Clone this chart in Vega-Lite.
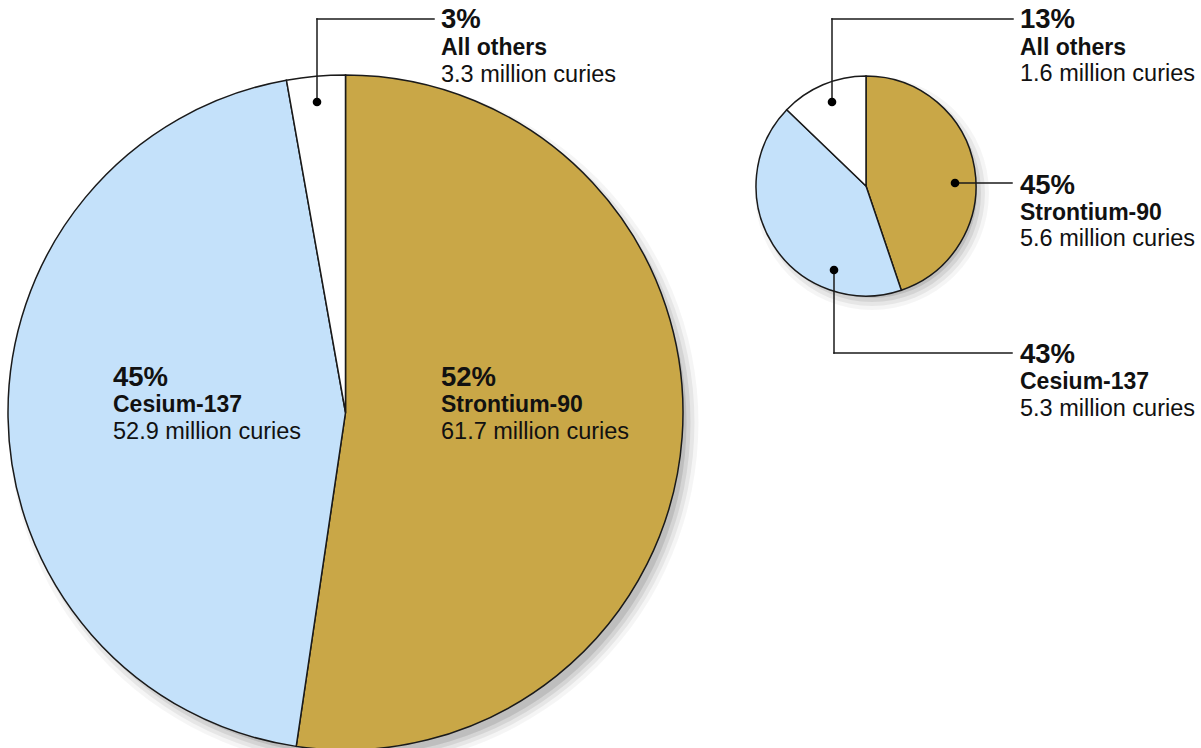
{
  "$schema": "https://vega.github.io/schema/vega-lite/v6.json",
  "width": 1201,
  "height": 748,
  "autosize": {"type": "none"},
  "padding": 0,
  "background": "#ffffff",
  "config": {
    "view": {"stroke": null},
    "axis": {"disable": true},
    "text": {"font": "Liberation Sans", "fill": "#111111", "baseline": "alphabetic", "align": "left"}
  },
  "data": {
    "values": [
      {"pie": "left", "nuclide": "Strontium-90", "curies": 61.7, "pct": "52%", "amount": "61.7 million curies", "ord": 1},
      {"pie": "left", "nuclide": "Cesium-137", "curies": 52.9, "pct": "45%", "amount": "52.9 million curies", "ord": 2},
      {"pie": "left", "nuclide": "All others", "curies": 3.3, "pct": "3%", "amount": "3.3 million curies", "ord": 3},
      {"pie": "right", "nuclide": "Strontium-90", "curies": 5.6, "pct": "45%", "amount": "5.6 million curies", "ord": 1},
      {"pie": "right", "nuclide": "Cesium-137", "curies": 5.3, "pct": "43%", "amount": "5.3 million curies", "ord": 2},
      {"pie": "right", "nuclide": "All others", "curies": 1.6, "pct": "13%", "amount": "1.6 million curies", "ord": 3}
    ]
  },
  "layer": [
    {
      "transform": [{"filter": "datum.pie === 'left' && datum.ord === 1"}],
      "layer": [
        {"mark": {"type": "arc", "theta": 0, "theta2": 6.2832, "outerRadius": 333, "fill": "#000000", "opacity": 0.1},
         "encoding": {
           "x": {"datum": 353.5, "scale": {"domain": [0, 1201], "nice": false, "zero": false}},
           "y": {"datum": 422.5, "scale": {"domain": [748, 0], "nice": false, "zero": false}}}},
        {"mark": {"type": "arc", "theta": 0, "theta2": 6.2832, "outerRadius": 337, "fill": "#000000", "opacity": 0.08},
         "encoding": {"x": {"datum": 353.5}, "y": {"datum": 422.5}}},
        {"mark": {"type": "arc", "theta": 0, "theta2": 6.2832, "outerRadius": 341, "fill": "#000000", "opacity": 0.06},
         "encoding": {"x": {"datum": 353.5}, "y": {"datum": 422.5}}},
        {"mark": {"type": "arc", "theta": 0, "theta2": 6.2832, "outerRadius": 345, "fill": "#000000", "opacity": 0.04},
         "encoding": {"x": {"datum": 353.5}, "y": {"datum": 422.5}}}
      ]
    },
    {
      "transform": [{"filter": "datum.pie === 'right' && datum.ord === 1"}],
      "layer": [
        {"mark": {"type": "arc", "theta": 0, "theta2": 6.2832, "outerRadius": 105, "fill": "#000000", "opacity": 0.1},
         "encoding": {"x": {"datum": 872}, "y": {"datum": 193}}},
        {"mark": {"type": "arc", "theta": 0, "theta2": 6.2832, "outerRadius": 109, "fill": "#000000", "opacity": 0.08},
         "encoding": {"x": {"datum": 872}, "y": {"datum": 193}}},
        {"mark": {"type": "arc", "theta": 0, "theta2": 6.2832, "outerRadius": 113, "fill": "#000000", "opacity": 0.06},
         "encoding": {"x": {"datum": 872}, "y": {"datum": 193}}},
        {"mark": {"type": "arc", "theta": 0, "theta2": 6.2832, "outerRadius": 117, "fill": "#000000", "opacity": 0.04},
         "encoding": {"x": {"datum": 872}, "y": {"datum": 193}}}
      ]
    },
    {
      "transform": [{"filter": "datum.pie === 'left'"}],
      "mark": {"type": "arc", "outerRadius": 337.5, "stroke": "#1a1a1a", "strokeWidth": 1.5},
      "encoding": {
        "x": {"datum": 345.5},
        "y": {"datum": 412.5},
        "theta": {"field": "curies", "type": "quantitative", "stack": "normalize"},
        "order": {"field": "ord", "type": "quantitative", "sort": "ascending"},
        "color": {"field": "nuclide", "type": "nominal", "legend": null,
          "scale": {"domain": ["Strontium-90", "Cesium-137", "All others"], "range": ["#C9A747", "#C4E1FA", "#FFFFFF"]}}
      }
    },
    {
      "transform": [{"filter": "datum.pie === 'right'"}],
      "mark": {"type": "arc", "outerRadius": 110, "stroke": "#1a1a1a", "strokeWidth": 1.5},
      "encoding": {
        "x": {"datum": 866},
        "y": {"datum": 186},
        "theta": {"field": "curies", "type": "quantitative", "stack": "normalize"},
        "order": {"field": "ord", "type": "quantitative", "sort": "ascending"},
        "color": {"field": "nuclide", "type": "nominal", "legend": null}
      }
    },
    {
      "transform": [{"filter": "datum.pie === 'left' && datum.nuclide === 'Strontium-90'"}],
      "layer": [
        {"mark": {"type": "text", "fontSize": 27.5, "fontWeight": "bold"},
         "encoding": {"x": {"datum": 441}, "y": {"datum": 386}, "text": {"field": "pct"}}},
        {"mark": {"type": "text", "fontSize": 23, "fontWeight": "bold"},
         "encoding": {"x": {"datum": 441}, "y": {"datum": 412}, "text": {"field": "nuclide"}}},
        {"mark": {"type": "text", "fontSize": 23.5},
         "encoding": {"x": {"datum": 441}, "y": {"datum": 439}, "text": {"field": "amount"}}}
      ]
    },
    {
      "transform": [{"filter": "datum.pie === 'left' && datum.nuclide === 'Cesium-137'"}],
      "layer": [
        {"mark": {"type": "text", "fontSize": 27.5, "fontWeight": "bold"},
         "encoding": {"x": {"datum": 113}, "y": {"datum": 386}, "text": {"field": "pct"}}},
        {"mark": {"type": "text", "fontSize": 23, "fontWeight": "bold"},
         "encoding": {"x": {"datum": 113}, "y": {"datum": 412}, "text": {"field": "nuclide"}}},
        {"mark": {"type": "text", "fontSize": 23.5},
         "encoding": {"x": {"datum": 113}, "y": {"datum": 439}, "text": {"field": "amount"}}}
      ]
    },
    {
      "transform": [{"filter": "datum.pie === 'left' && datum.nuclide === 'All others'"}],
      "layer": [
        {"mark": {"type": "rule", "stroke": "#1a1a1a", "strokeWidth": 1.5, "strokeCap": "square"},
         "encoding": {"x": {"datum": 317}, "y": {"datum": 102}, "y2": {"datum": 19}}},
        {"mark": {"type": "rule", "stroke": "#1a1a1a", "strokeWidth": 1.5, "strokeCap": "square"},
         "encoding": {"x": {"datum": 317}, "x2": {"datum": 434}, "y": {"datum": 19}}},
        {"mark": {"type": "point", "shape": "circle", "filled": true, "size": 75, "color": "#000000", "opacity": 1},
         "encoding": {"x": {"datum": 317}, "y": {"datum": 102}}},
        {"mark": {"type": "text", "fontSize": 27.5, "fontWeight": "bold"},
         "encoding": {"x": {"datum": 441}, "y": {"datum": 28}, "text": {"field": "pct"}}},
        {"mark": {"type": "text", "fontSize": 23, "fontWeight": "bold"},
         "encoding": {"x": {"datum": 441}, "y": {"datum": 55}, "text": {"field": "nuclide"}}},
        {"mark": {"type": "text", "fontSize": 23.5},
         "encoding": {"x": {"datum": 441}, "y": {"datum": 82}, "text": {"field": "amount"}}}
      ]
    },
    {
      "transform": [{"filter": "datum.pie === 'right' && datum.nuclide === 'All others'"}],
      "layer": [
        {"mark": {"type": "rule", "stroke": "#1a1a1a", "strokeWidth": 1.5, "strokeCap": "square"},
         "encoding": {"x": {"datum": 832}, "y": {"datum": 102}, "y2": {"datum": 19}}},
        {"mark": {"type": "rule", "stroke": "#1a1a1a", "strokeWidth": 1.5, "strokeCap": "square"},
         "encoding": {"x": {"datum": 832}, "x2": {"datum": 1013}, "y": {"datum": 19}}},
        {"mark": {"type": "point", "shape": "circle", "filled": true, "size": 75, "color": "#000000", "opacity": 1},
         "encoding": {"x": {"datum": 832}, "y": {"datum": 102}}},
        {"mark": {"type": "text", "fontSize": 27.5, "fontWeight": "bold"},
         "encoding": {"x": {"datum": 1020}, "y": {"datum": 28}, "text": {"field": "pct"}}},
        {"mark": {"type": "text", "fontSize": 23, "fontWeight": "bold"},
         "encoding": {"x": {"datum": 1020}, "y": {"datum": 55}, "text": {"field": "nuclide"}}},
        {"mark": {"type": "text", "fontSize": 23.5},
         "encoding": {"x": {"datum": 1020}, "y": {"datum": 81}, "text": {"field": "amount"}}}
      ]
    },
    {
      "transform": [{"filter": "datum.pie === 'right' && datum.nuclide === 'Strontium-90'"}],
      "layer": [
        {"mark": {"type": "rule", "stroke": "#1a1a1a", "strokeWidth": 1.5, "strokeCap": "square"},
         "encoding": {"x": {"datum": 955}, "x2": {"datum": 1012}, "y": {"datum": 183}}},
        {"mark": {"type": "point", "shape": "circle", "filled": true, "size": 75, "color": "#000000", "opacity": 1},
         "encoding": {"x": {"datum": 955}, "y": {"datum": 183}}},
        {"mark": {"type": "text", "fontSize": 27.5, "fontWeight": "bold"},
         "encoding": {"x": {"datum": 1020}, "y": {"datum": 194}, "text": {"field": "pct"}}},
        {"mark": {"type": "text", "fontSize": 23, "fontWeight": "bold"},
         "encoding": {"x": {"datum": 1020}, "y": {"datum": 220}, "text": {"field": "nuclide"}}},
        {"mark": {"type": "text", "fontSize": 23.5},
         "encoding": {"x": {"datum": 1020}, "y": {"datum": 246}, "text": {"field": "amount"}}}
      ]
    },
    {
      "transform": [{"filter": "datum.pie === 'right' && datum.nuclide === 'Cesium-137'"}],
      "layer": [
        {"mark": {"type": "rule", "stroke": "#1a1a1a", "strokeWidth": 1.5, "strokeCap": "square"},
         "encoding": {"x": {"datum": 834}, "y": {"datum": 270}, "y2": {"datum": 353}}},
        {"mark": {"type": "rule", "stroke": "#1a1a1a", "strokeWidth": 1.5, "strokeCap": "square"},
         "encoding": {"x": {"datum": 834}, "x2": {"datum": 1012}, "y": {"datum": 353}}},
        {"mark": {"type": "point", "shape": "circle", "filled": true, "size": 75, "color": "#000000", "opacity": 1},
         "encoding": {"x": {"datum": 834}, "y": {"datum": 270}}},
        {"mark": {"type": "text", "fontSize": 27.5, "fontWeight": "bold"},
         "encoding": {"x": {"datum": 1020}, "y": {"datum": 363}, "text": {"field": "pct"}}},
        {"mark": {"type": "text", "fontSize": 23, "fontWeight": "bold"},
         "encoding": {"x": {"datum": 1020}, "y": {"datum": 389}, "text": {"field": "nuclide"}}},
        {"mark": {"type": "text", "fontSize": 23.5},
         "encoding": {"x": {"datum": 1020}, "y": {"datum": 416}, "text": {"field": "amount"}}}
      ]
    }
  ]
}
